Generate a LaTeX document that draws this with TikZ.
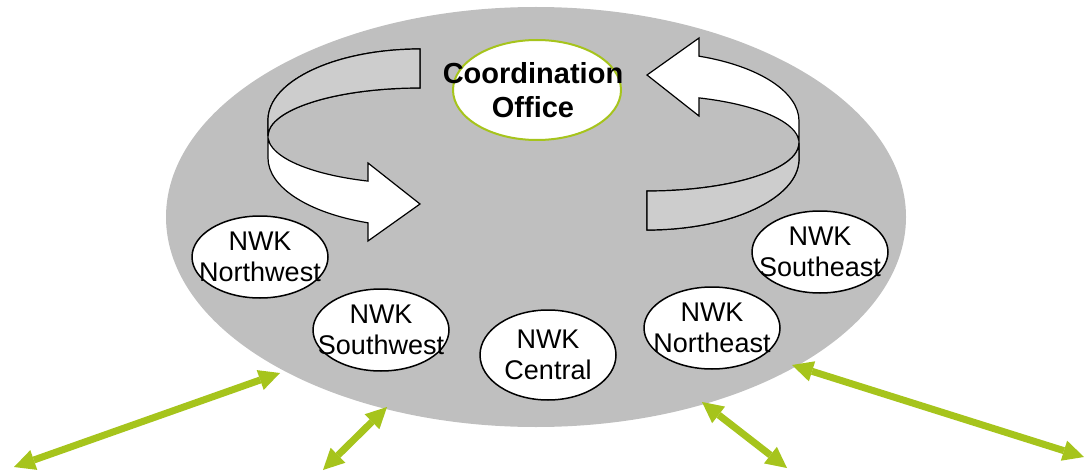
\documentclass[tikz,border=0pt]{standalone}
\usepackage{fontspec}
\setmainfont{Liberation Sans}
\usetikzlibrary{shapes.geometric,arrows.meta}
\definecolor{linkGreen}{RGB}{166,196,28}
\definecolor{networkGray}{RGB}{191,191,191}
\definecolor{ribbonGray}{RGB}{205,205,205}

\begin{document}
\begin{tikzpicture}[x=1pt, y=1pt,
ellNetwork/.style={ellipse, fill=networkGray, minimum width=740pt, minimum height=420pt, inner sep=0pt},
ellOffice/.style={ellipse, draw=linkGreen, line width=2pt, fill=white, minimum width=168pt, minimum height=100pt, inner sep=0pt},
textOffice/.style={font=\fontsize{29}{34}\selectfont\bfseries, align=center, inner sep=0pt, xshift=-4pt},
ellNWK/.style={ellipse, draw=black, line width=1.5pt, fill=white, minimum width=136pt, minimum height=82pt, inner sep=0pt},
textNWK/.style={font=\fontsize{27}{31}\selectfont, align=center, inner sep=0pt},
ribbonLine/.style={draw=black, line width=1.2pt, line join=miter},
linkArrow/.style={color=linkGreen, line width=7pt, {Triangle[length=21pt,width=21pt,line width=0pt]}-{Triangle[length=21pt,width=21pt,line width=0pt]}},
ribbonArrow/.pic={
\draw[ribbonLine, fill=white] (0,87) arc[start angle=90, end angle=180, x radius=152, y radius=71] -- (-152,-22)
	arc[start angle=180, end angle=250, x radius=152, y radius=69] -- (-52,-105) -- (0,-68) -- (-52,-27) -- (-52,-45.1)
	arc[start angle=250, end angle=90, x radius=152, y radius=48] -- cycle;
\draw[ribbonLine, fill=ribbonGray] (0,87) arc[start angle=90, end angle=180, x radius=152, y radius=71] -- (-152,0)
	arc[start angle=180, end angle=90, x radius=152, y radius=48] -- cycle;
}
]

\useasboundingbox (0,0) rectangle (1086,472);

\node[ellNetwork] (network) at (536,255) {};

\path (420,336) pic {ribbonArrow};
\path (647,329) pic[rotate=180] {ribbonArrow};

\node[ellOffice, label={[textOffice]center:Coordination\\Office}] (office) at (537,382) {};

\node[ellNWK, label={[textNWK]center:NWK\\Northwest}] (nwkNorthwest) at (260,215) {};
\node[ellNWK, label={[textNWK]center:NWK\\Southwest}] (nwkSouthwest) at (381,142) {};
\node[ellNWK, minimum height=90pt, label={[textNWK]center:NWK\\Central}] (nwkCentral) at (548,117) {};
\node[ellNWK, label={[textNWK]center:NWK\\Northeast}] (nwkNortheast) at (712,144) {};
\node[ellNWK, label={[textNWK]center:NWK\\Southeast}] (nwkSoutheast) at (820,220) {};



\coordinate (linkWestIn) at (280,99);
\coordinate (linkWestOut) at (14,5);
\coordinate (linkSouthwestIn) at (387,65);
\coordinate (linkSouthwestOut) at (323,2);
\coordinate (linkSoutheastIn) at (702,70);
\coordinate (linkSoutheastOut) at (787,4);
\coordinate (linkEastIn) at (792,107);
\coordinate (linkEastOut) at (1084,15);

\path[linkArrow] 	(linkWestIn) 		edge 		(linkWestOut)
			(linkSouthwestIn) 	edge 		(linkSouthwestOut)
			(linkSoutheastIn) 	edge 		(linkSoutheastOut)
			(linkEastIn) 		edge 		(linkEastOut);

\end{tikzpicture}
\end{document}
